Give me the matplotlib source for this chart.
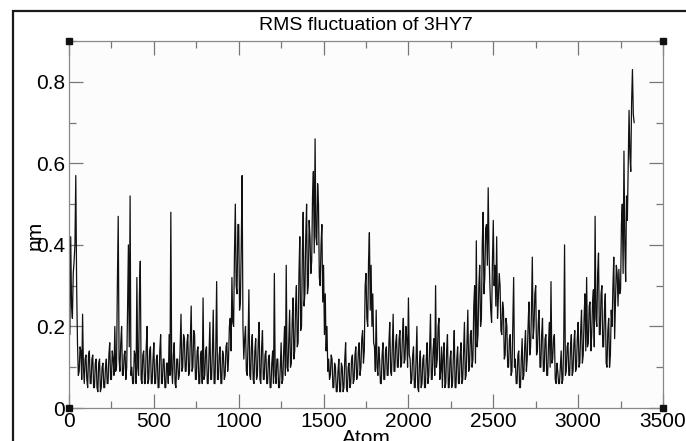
import numpy as np
import matplotlib
matplotlib.use("Agg")
import matplotlib.pyplot as plt
from matplotlib.ticker import MultipleLocator
from matplotlib.patches import Rectangle

# ---- data (RMS fluctuation per atom, every 5 atoms) ----
atom_step = 5
rmsf = [
    0.30, 0.18, 0.42, 0.25, 0.22, 0.33, 0.36, 0.40, 0.57, 0.30, 0.16, 0.08, 0.09, 0.15, 0.14, 0.07, 0.23, 0.10, 0.06, 0.12,  # 0
    0.13, 0.07, 0.05, 0.13, 0.14, 0.06, 0.06, 0.12, 0.13, 0.05, 0.05, 0.11, 0.12, 0.05, 0.04, 0.11, 0.12, 0.04, 0.05, 0.10,  # 100
    0.11, 0.05, 0.05, 0.10, 0.12, 0.06, 0.06, 0.13, 0.16, 0.07, 0.07, 0.14, 0.12, 0.08, 0.20, 0.09, 0.10, 0.30, 0.47, 0.12,  # 200
    0.09, 0.16, 0.20, 0.08, 0.08, 0.13, 0.14, 0.07, 0.10, 0.24, 0.40, 0.15, 0.52, 0.08, 0.10, 0.06, 0.06, 0.14, 0.13, 0.06,  # 300
    0.32, 0.10, 0.08, 0.28, 0.36, 0.07, 0.06, 0.13, 0.14, 0.06, 0.06, 0.15, 0.20, 0.06, 0.07, 0.14, 0.15, 0.06, 0.06, 0.12,  # 400
    0.16, 0.06, 0.06, 0.12, 0.13, 0.05, 0.05, 0.14, 0.18, 0.06, 0.06, 0.12, 0.12, 0.05, 0.05, 0.11, 0.11, 0.06, 0.18, 0.08,  # 500
    0.48, 0.10, 0.06, 0.13, 0.16, 0.06, 0.05, 0.12, 0.12, 0.07, 0.08, 0.15, 0.23, 0.09, 0.10, 0.18, 0.17, 0.09, 0.09, 0.16,  # 600
    0.18, 0.08, 0.09, 0.17, 0.25, 0.09, 0.10, 0.19, 0.18, 0.07, 0.07, 0.14, 0.15, 0.06, 0.06, 0.13, 0.14, 0.06, 0.27, 0.07,  # 700
    0.08, 0.14, 0.15, 0.06, 0.06, 0.13, 0.21, 0.07, 0.07, 0.14, 0.24, 0.06, 0.06, 0.15, 0.31, 0.07, 0.07, 0.13, 0.15, 0.06,  # 800
    0.06, 0.14, 0.13, 0.07, 0.08, 0.15, 0.16, 0.09, 0.12, 0.20, 0.22, 0.14, 0.32, 0.21, 0.20, 0.38, 0.50, 0.30, 0.28, 0.45,  # 900
    0.45, 0.24, 0.26, 0.40, 0.57, 0.20, 0.12, 0.17, 0.20, 0.09, 0.08, 0.16, 0.29, 0.08, 0.07, 0.15, 0.18, 0.07, 0.06, 0.14,  # 1000
    0.17, 0.07, 0.08, 0.16, 0.21, 0.07, 0.06, 0.15, 0.19, 0.07, 0.07, 0.13, 0.14, 0.06, 0.06, 0.12, 0.13, 0.05, 0.05, 0.11,  # 1100
    0.14, 0.06, 0.33, 0.08, 0.06, 0.12, 0.12, 0.05, 0.05, 0.10, 0.16, 0.06, 0.07, 0.14, 0.20, 0.08, 0.35, 0.10, 0.09, 0.17,  # 1200
    0.24, 0.10, 0.11, 0.21, 0.27, 0.12, 0.14, 0.25, 0.30, 0.15, 0.16, 0.33, 0.42, 0.19, 0.20, 0.38, 0.48, 0.25, 0.28, 0.42,  # 1300
    0.50, 0.28, 0.30, 0.46, 0.42, 0.33, 0.36, 0.52, 0.58, 0.38, 0.66, 0.42, 0.40, 0.55, 0.50, 0.32, 0.30, 0.40, 0.45, 0.26,  # 1400
    0.35, 0.18, 0.28, 0.14, 0.20, 0.09, 0.12, 0.07, 0.08, 0.13, 0.12, 0.05, 0.05, 0.11, 0.10, 0.04, 0.04, 0.09, 0.12, 0.04,  # 1500
    0.04, 0.11, 0.10, 0.04, 0.05, 0.12, 0.16, 0.05, 0.04, 0.10, 0.11, 0.05, 0.06, 0.12, 0.13, 0.06, 0.07, 0.13, 0.15, 0.07,  # 1600
    0.08, 0.14, 0.16, 0.08, 0.10, 0.17, 0.19, 0.11, 0.14, 0.30, 0.33, 0.22, 0.20, 0.36, 0.43, 0.24, 0.35, 0.20, 0.28, 0.16,  # 1700
    0.15, 0.09, 0.24, 0.10, 0.08, 0.15, 0.12, 0.06, 0.06, 0.13, 0.16, 0.07, 0.07, 0.14, 0.15, 0.08, 0.08, 0.16, 0.21, 0.09,  # 1800
    0.08, 0.15, 0.23, 0.09, 0.09, 0.16, 0.18, 0.10, 0.10, 0.17, 0.19, 0.10, 0.11, 0.18, 0.22, 0.11, 0.12, 0.20, 0.17, 0.10,  # 1900
    0.27, 0.13, 0.12, 0.06, 0.07, 0.13, 0.15, 0.05, 0.05, 0.12, 0.20, 0.05, 0.04, 0.11, 0.14, 0.05, 0.06, 0.12, 0.13, 0.05,  # 2000
    0.05, 0.12, 0.16, 0.06, 0.08, 0.15, 0.23, 0.07, 0.07, 0.14, 0.17, 0.08, 0.30, 0.10, 0.12, 0.20, 0.22, 0.07, 0.09, 0.15,  # 2100
    0.05, 0.13, 0.16, 0.05, 0.06, 0.14, 0.18, 0.05, 0.05, 0.12, 0.14, 0.05, 0.06, 0.13, 0.19, 0.05, 0.05, 0.12, 0.15, 0.06,  # 2200
    0.06, 0.13, 0.16, 0.06, 0.07, 0.14, 0.21, 0.07, 0.08, 0.16, 0.24, 0.09, 0.10, 0.18, 0.19, 0.10, 0.12, 0.25, 0.30, 0.11,  # 2300
    0.41, 0.15, 0.18, 0.30, 0.35, 0.20, 0.22, 0.40, 0.48, 0.28, 0.32, 0.44, 0.45, 0.35, 0.54, 0.38, 0.30, 0.24, 0.21, 0.36,  # 2400
    0.46, 0.30, 0.35, 0.25, 0.42, 0.22, 0.27, 0.33, 0.30, 0.19, 0.18, 0.26, 0.24, 0.12, 0.13, 0.22, 0.20, 0.10, 0.10, 0.17,  # 2500
    0.18, 0.08, 0.09, 0.20, 0.32, 0.10, 0.12, 0.06, 0.06, 0.13, 0.14, 0.05, 0.05, 0.12, 0.17, 0.07, 0.08, 0.15, 0.19, 0.09,  # 2600
    0.12, 0.20, 0.26, 0.13, 0.15, 0.24, 0.37, 0.17, 0.20, 0.28, 0.30, 0.13, 0.14, 0.21, 0.24, 0.10, 0.10, 0.18, 0.22, 0.09,  # 2700
    0.09, 0.17, 0.18, 0.08, 0.08, 0.15, 0.21, 0.10, 0.31, 0.11, 0.12, 0.17, 0.18, 0.07, 0.06, 0.11, 0.09, 0.06, 0.06, 0.10,  # 2800
    0.14, 0.06, 0.07, 0.16, 0.40, 0.08, 0.09, 0.15, 0.16, 0.08, 0.08, 0.15, 0.18, 0.08, 0.09, 0.16, 0.19, 0.09, 0.10, 0.17,  # 2900
    0.21, 0.10, 0.11, 0.19, 0.24, 0.11, 0.13, 0.22, 0.28, 0.14, 0.32, 0.15, 0.16, 0.25, 0.26, 0.14, 0.18, 0.26, 0.29, 0.15,  # 3000
    0.47, 0.22, 0.20, 0.33, 0.38, 0.18, 0.18, 0.28, 0.30, 0.15, 0.15, 0.24, 0.28, 0.11, 0.10, 0.19, 0.22, 0.10, 0.13, 0.24,  # 3100
    0.20, 0.30, 0.37, 0.17, 0.26, 0.35, 0.33, 0.25, 0.34, 0.28, 0.29, 0.45, 0.50, 0.33, 0.63, 0.40, 0.31, 0.52, 0.46, 0.60,  # 3200
    0.73, 0.62, 0.58, 0.75, 0.83, 0.72, 0.70,                                                                                  # 3300
]
atoms = np.arange(len(rmsf)) * atom_step

title = "RMS fluctuation of 3HY7"
xlabel = "Atom"
ylabel = "nm"
xticks = [0, 500, 1000, 1500, 2000, 2500, 3000, 3500]
yticks = [0, 0.2, 0.4, 0.6, 0.8]
ytick_labels = ["0", "0.2", "0.4", "0.6", "0.8"]

# ---- figure ----
plt.rcParams['font.family'] = ['Liberation Sans', 'DejaVu Sans']
W, H = 686, 441
fig = plt.figure(figsize=(W / 100, H / 100), dpi=100)
fig.patch.set_facecolor('white')

# outer frame (left and top edges visible)
fig.add_artist(Rectangle((13 / W, -0.1), 1.2, 1.1 - 11 / H,
                         transform=fig.transFigure, fill=False,
                         edgecolor='#1a1a1a', linewidth=1.6))

left, right, top, bottom = 69, 663, 41, 408
ax = fig.add_axes([left / W, (H - bottom) / H, (right - left) / W, (bottom - top) / H])
ax.set_facecolor('#fcfcfc')

ax.plot(atoms, rmsf, color='#111111', linewidth=0.9)

ax.set_xlim(0, 3500)
ax.set_ylim(0, 0.9)
ax.set_xticks(xticks)
ax.set_xticklabels([str(t) for t in xticks])
ax.set_yticks(yticks)
ax.set_yticklabels(ytick_labels)
ax.xaxis.set_minor_locator(MultipleLocator(250))
ax.yaxis.set_minor_locator(MultipleLocator(0.1))
ax.tick_params(which='both', direction='in', top=True, right=True,
               color='#777777', width=0.9, labelsize=15, labelcolor='black')
ax.tick_params(which='major', length=10, pad=3)
ax.tick_params(which='minor', length=5)
for s in ax.spines.values():
    s.set_color('#888888')
    s.set_linewidth(0.9)

ax.set_title(title, fontsize=14, pad=8)
ax.set_xlabel(xlabel, fontsize=15)
ax.xaxis.set_label_coords(0.5, -0.058)
ax.set_ylabel(ylabel, fontsize=15)
ax.yaxis.set_label_coords(-0.057, 0.47)
ax.yaxis.label.set_va('center')

# corner handles
for cx, cy in [(0, 0), (0, 1), (1, 0), (1, 1)]:
    ax.plot([cx], [cy], marker='s', markersize=4.5, color='#111111',
            transform=ax.transAxes, clip_on=False, zorder=5)

fig.savefig('out.png', dpi=100)
